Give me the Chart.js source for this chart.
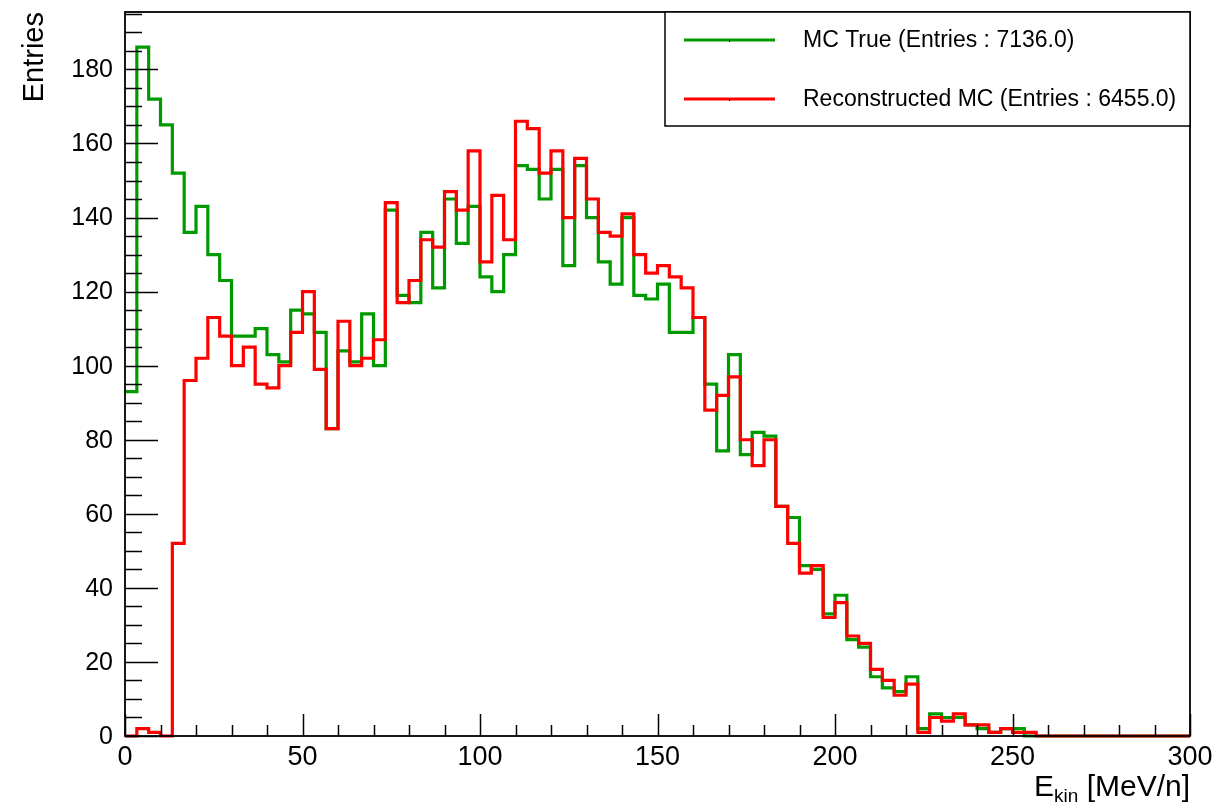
<!DOCTYPE html>
<html>
<head>
<meta charset="utf-8">
<title>Ekin spectrum</title>
<script src="https://cdn.jsdelivr.net/npm/chart.js@4.4.1/dist/chart.umd.min.js"></script>
<style>
  html, body { margin: 0; padding: 0; background: #ffffff; }
  canvas { display: block; }
</style>
</head>
<body>
<canvas id="ekin" width="1221" height="805"></canvas>
<script>
// histogram range: 90 bins over 0..300 MeV/n
const X_MIN = 0;
const X_MAX = 300;
const Y_MAX = 195.5;

const mcTrue = [
  93, 186, 172, 165, 152, 136, 143, 130, 123, 108,
  108, 110, 103, 101, 115, 114, 109, 83, 104, 101,
  114, 100, 142, 119, 117, 136, 121, 145, 133, 143,
  124, 120, 130, 154, 153, 145, 153, 127, 154, 140,
  128, 122, 140, 119, 118, 122, 109, 109, 113, 95,
  77, 103, 76, 82, 81, 62, 59, 46, 45, 33,
  38, 26, 24, 16, 13, 12, 16, 2, 6, 5,
  5, 3, 2, 1, 2, 2, 0, 0, 0, 0,
  0, 0, 0, 0, 0, 0, 0, 0, 0, 0
];

const recoMC = [
  0, 2, 1, 0, 52, 96, 102, 113, 108, 100,
  105, 95, 94, 100, 109, 120, 99, 83, 112, 100,
  102, 107, 144, 117, 123, 134, 132, 147, 142, 158,
  128, 146, 134, 166, 164, 152, 158, 140, 156, 145,
  136, 135, 141, 130, 125, 127, 124, 121, 113, 88,
  92, 97, 80, 73, 80, 62, 52, 44, 46, 32,
  36, 27, 25, 18, 15, 11, 14, 1, 5, 4,
  6, 3, 3, 1, 2, 1, 1, 0, 0, 0,
  0, 0, 0, 0, 0, 0, 0, 0, 0, 0
];

const seriesLabels = ["MC True (Entries : 7136.0)", "Reconstructed MC (Entries : 6455.0)"];
const xTickLabels = [0, 50, 100, 150, 200, 250, 300];
const yTickLabels = [0, 20, 40, 60, 80, 100, 120, 140, 160, 180];
const X_MINOR = 10;
const Y_MINOR = 5;

const GREEN = "#009a00";
const RED = "#ff0000";
const FONT = "'Liberation Sans', Arial, Helvetica, sans-serif";

// one point per bin low edge, plus the closing edge at X_MAX
function histPoints(counts) {
  const w = (X_MAX - X_MIN) / counts.length;
  const pts = counts.map((c, i) => ({ x: X_MIN + i * w, y: c }));
  pts.push({ x: X_MAX, y: counts[counts.length - 1] });
  return pts;
}

// frame, inward ticks, labels, titles and the boxed legend
const rootStyle = {
  id: "rootStyle",
  afterDatasetsDraw(chart) {
    const ctx = chart.ctx;
    const area = chart.chartArea;
    const xs = chart.scales.x;
    const ys = chart.scales.y;

    ctx.save();
    ctx.strokeStyle = "#000";
    ctx.lineWidth = 1.5;

    // y ticks
    for (let v = 0; v <= Y_MAX; v += Y_MINOR) {
      const py = Math.round(ys.getPixelForValue(v)) + 0.5;
      const len = v % 20 === 0 ? 33 : 17;
      ctx.beginPath();
      ctx.moveTo(area.left, py);
      ctx.lineTo(area.left + len, py);
      ctx.stroke();
    }
    // x ticks
    for (let v = X_MIN; v <= X_MAX; v += X_MINOR) {
      const px = Math.round(xs.getPixelForValue(v)) + 0.5;
      const len = v % 50 === 0 ? 22 : 11;
      ctx.beginPath();
      ctx.moveTo(px, area.bottom);
      ctx.lineTo(px, area.bottom - len);
      ctx.stroke();
    }

    // frame
    ctx.lineWidth = 1.8;
    ctx.strokeRect(area.left, area.top, area.right - area.left, area.bottom - area.top);

    // tick labels
    ctx.fillStyle = "#000";
    ctx.font = "25px " + FONT;
    ctx.textAlign = "right";
    ctx.textBaseline = "middle";
    yTickLabels.forEach(v => {
      ctx.fillText(String(v), area.left - 12, ys.getPixelForValue(v) + 1);
    });
    ctx.font = "27px " + FONT;
    ctx.textAlign = "center";
    ctx.textBaseline = "top";
    xTickLabels.forEach(v => {
      ctx.fillText(String(v), xs.getPixelForValue(v), area.bottom + 8);
    });

    // axis titles
    ctx.font = "29px " + FONT;
    ctx.save();
    ctx.translate(43, area.top);
    ctx.rotate(-Math.PI / 2);
    ctx.textAlign = "right";
    ctx.textBaseline = "alphabetic";
    ctx.fillText("Entries", 0, 0);
    ctx.restore();

    ctx.textBaseline = "alphabetic";
    ctx.textAlign = "left";
    const unit = " [MeV/n]";
    ctx.font = "30px " + FONT;
    const wUnit = ctx.measureText(unit).width;
    const wE = ctx.measureText("E").width;
    ctx.font = "19px " + FONT;
    const wSub = ctx.measureText("kin").width;
    const tx = area.right - wUnit - wSub - wE;
    const ty = 796;
    ctx.font = "30px " + FONT;
    ctx.fillText("E", tx, ty);
    ctx.font = "19px " + FONT;
    ctx.fillText("kin", tx + wE, ty + 6);
    ctx.font = "30px " + FONT;
    ctx.fillText(unit, tx + wE + wSub, ty);

    // legend box
    const bx = 665, by = area.top, bw = area.right - 665, bh = 114;
    ctx.fillStyle = "#fff";
    ctx.fillRect(bx, by, bw, bh);
    ctx.strokeStyle = "#000";
    ctx.lineWidth = 1.5;
    ctx.strokeRect(bx, by, bw, bh);

    const rows = [40, 99];
    chart.data.datasets.forEach((ds, i) => {
      const y = rows[i];
      ctx.strokeStyle = ds.borderColor;
      ctx.lineWidth = 3;
      ctx.beginPath();
      ctx.moveTo(684, y);
      ctx.lineTo(775, y);
      ctx.stroke();
      ctx.fillStyle = "#000";
      ctx.fillRect(729, y, 1, 2);
      ctx.font = "23px " + FONT;
      ctx.textAlign = "left";
      ctx.textBaseline = "middle";
      ctx.fillText(ds.label, 803, y + 1);
    });

    ctx.restore();
  }
};

new Chart(document.getElementById("ekin"), {
  type: "line",
  data: {
    datasets: [
      {
        label: seriesLabels[0],
        data: histPoints(mcTrue),
        borderColor: GREEN,
        borderWidth: 3.2,
        stepped: true,
        pointRadius: 0,
        fill: false,
        clip: false,
        borderJoinStyle: "miter",
        order: 2,
      },
      {
        label: seriesLabels[1],
        data: histPoints(recoMC),
        borderColor: RED,
        borderWidth: 3.2,
        stepped: true,
        pointRadius: 0,
        fill: false,
        clip: false,
        borderJoinStyle: "miter",
        order: 1,
      },
    ],
  },
  options: {
    responsive: false,
    animation: false,
    devicePixelRatio: 1,
    layout: { padding: { left: 125, right: 31, top: 12, bottom: 69 } },
    plugins: {
      legend: { display: false },
      tooltip: { enabled: false },
    },
    scales: {
      x: { type: "linear", min: X_MIN, max: X_MAX, display: false },
      y: { type: "linear", min: 0, max: Y_MAX, display: false },
    },
  },
  plugins: [rootStyle],
});
</script>
</body>
</html>
